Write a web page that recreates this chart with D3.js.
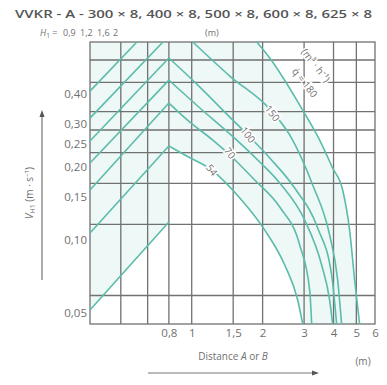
<!DOCTYPE html>
<html><head><meta charset="utf-8">
<script src="https://cdn.jsdelivr.net/npm/d3@7"></script>
<style>body{margin:0;background:#fff}svg{display:block}</style>
</head><body><svg id="c" width="387" height="385"></svg>
<script>
// Axis ticks and grid
const distTicks = [0.8, 1, 1.5, 2, 3, 4, 5, 6];
const distTickLabels = ["0,8", "1", "1,5", "2", "3", "4", "5", "6"];
const distGrid = [0.5, 0.65, 0.8, 1, 1.5, 2, 3, 4, 5];
const velTicks = [0.05, 0.10, 0.15, 0.20, 0.25, 0.30, 0.40];
const velTickLabels = ["0,05", "0,10", "0,15", "0,20", "0,25", "0,30", "0,40"];
const velGrid = [0.059, 0.116, 0.171, 0.229, 0.284, 0.338, 0.446, 0.552];
const heightLabels = ["0,9", "1,2", "1,6", "2"];

// Rising lines [distance m, velocity m/s]
const rise1 = [[0.37, 0.0514], [0.80, 0.1185]];
const rise2 = [[0.37, 0.1068], [0.80, 0.244]];
const rise3 = [[0.37, 0.1606], [0.80, 0.367]];
const rise4 = [[0.37, 0.2075], [0.80, 0.456]];
const rise5 = [[0.37, 0.256], [0.80, 0.5625]];
const rise6 = [[0.37, 0.318], [0.755, 0.655]];
const rise7 = [[0.37, 0.411], [0.585, 0.655]];

// Falling curves per flow rate [distance m, velocity m/s]
const q54 = [[0.80, 0.244], [0.935, 0.224], [1.217, 0.194], [1.600, 0.1489], [2.042, 0.1098], [2.482, 0.0788], [2.818, 0.0565], [2.959, 0.045]];
const q70 = [[0.80, 0.367], [0.982, 0.306], [1.229, 0.258], [1.451, 0.224], [1.852, 0.1766], [2.364, 0.1367], [2.874, 0.0953], [3.168, 0.0621], [3.231, 0.045]];
const q85 = [[0.80, 0.456], [1.083, 0.350], [1.554, 0.258], [1.945, 0.2095], [2.364, 0.1717], [3.017, 0.1208], [3.562, 0.0788], [3.851, 0.0565], [3.966, 0.045]];
const q100 = [[0.80, 0.5625], [1.083, 0.427], [1.451, 0.321], [1.730, 0.271], [2.144, 0.2177], [2.736, 0.1637], [3.426, 0.1120], [3.927, 0.0717], [4.123, 0.045]];
const q150 = [[1.011, 0.655], [1.451, 0.474], [2.165, 0.343], [2.606, 0.271], [3.263, 0.1684], [3.851, 0.1048], [4.166, 0.0683], [4.329, 0.045]];
const q180 = [[1.889, 0.655], [2.144, 0.5625], [2.959, 0.343], [3.493, 0.258], [3.966, 0.198], [4.374, 0.1606], [4.681, 0.1098], [4.918, 0.0683], [5.162, 0.045]];

// Flow-rate labels: text and anchor [distance, velocity]
const flowNames = ["54", "70", "100", "150", "q\u0307 = 180", "(m\u00B3 \u00B7 h\u207B\u00B9)"];
const flowAnchors = [[1.217, 0.194], [1.451, 0.228], [1.730, 0.271], [2.2, 0.333], [3.02, 0.445], [3.36, 0.525]];

const risingLines = [rise1, rise2, rise3, rise4, rise5, rise6, rise7];
const fallingCurves = [q54, q70, q85, q100, q150, q180];

const svg = d3.select("#c");
svg.append("rect").attr("width", 387).attr("height", 385).attr("fill", "#fff");

const x = d3.scaleLog().domain([0.37, 6]).range([90, 375]);
const y = d3.scaleLog().domain([0.045, 0.655]).range([324, 42]);
const straight = d3.line().x(d => x(d[0])).y(d => y(d[1]));
const smooth = d3.line().x(d => x(d[0])).y(d => y(d[1])).curve(d3.curveMonotoneX);

const gridCol = "#636363", curveCol = "#5bbcab", textCol = "#707070";
const font = "'Open Sans', 'Noto Sans', sans-serif";
const [xmin, xmax] = x.domain(), [vbot, vtop] = y.domain();

// Faint tint over the working region
const tint = [[xmin, vtop], [q180[0][0], vtop]]
  .concat(q180.slice(1))
  .concat(q54.slice().reverse())
  .concat([rise1[1], rise1[0]]);
svg.append("path").attr("d", straight(tint) + "Z").attr("fill", "#eef8f6");

// Grid
const g = svg.append("g").attr("stroke", gridCol).attr("stroke-width", 1.3).attr("opacity", 0.9);
distGrid.forEach(v => g.append("line").attr("x1", x(v)).attr("x2", x(v)).attr("y1", y(vtop)).attr("y2", y(vbot)));
velGrid.forEach(v => g.append("line").attr("y1", y(v)).attr("y2", y(v)).attr("x1", x(xmin)).attr("x2", x(xmax)));
g.append("rect").attr("x", x(xmin)).attr("y", y(vtop))
  .attr("width", x(xmax) - x(xmin)).attr("height", y(vbot) - y(vtop)).attr("fill", "none");

// Curves
const cg = svg.append("g").attr("fill", "none").attr("stroke", curveCol).attr("stroke-width", 1.6);
risingLines.forEach(r => cg.append("path").attr("d", straight(r)));
fallingCurves.forEach(f => cg.append("path").attr("d", smooth(f)));

// Flow labels along the curves
flowNames.forEach((t, i) => {
  svg.append("text")
    .attr("transform", `translate(${x(flowAnchors[i][0])},${y(flowAnchors[i][1])}) rotate(52)`)
    .attr("text-anchor", "middle").attr("dy", "0.35em")
    .attr("font-family", font).attr("font-size", 10).attr("fill", textCol)
    .attr("stroke", "#fff").attr("stroke-width", 3).attr("paint-order", "stroke")
    .text(t);
});

// Axes
const yAxis = d3.axisLeft(y).tickValues(velTicks).tickFormat((d, i) => velTickLabels[i]).tickSize(0).tickPadding(3);
const ya = svg.append("g").attr("transform", `translate(${x(xmin)},0)`).call(yAxis);
ya.select(".domain").remove();
ya.selectAll("text").attr("font-family", font).attr("font-size", 11.5).attr("fill", textCol);

const xAxis = d3.axisBottom(x).tickValues(distTicks).tickFormat((d, i) => distTickLabels[i]).tickSize(0).tickPadding(5);
const xa = svg.append("g").attr("transform", `translate(0,${y(vbot)})`).call(xAxis);
xa.select(".domain").remove();
xa.selectAll("text").attr("font-family", font).attr("font-size", 11.5).attr("fill", textCol);

// Title
svg.append("text").attr("x", 15).attr("y", 18)
  .attr("font-family", font).attr("font-size", 11.5).attr("font-weight", 600).attr("fill", "#555")
  .attr("textLength", 357).attr("lengthAdjust", "spacingAndGlyphs")
  .text("VVKR - A - 300 \u00D7 8, 400 \u00D7 8, 500 \u00D7 8, 600 \u00D7 8, 625 \u00D7 8");

// Installation height row
const hr = svg.append("g").attr("font-family", font).attr("font-size", 9).attr("fill", textCol);
const ht = hr.append("text").attr("x", 40).attr("y", 36);
ht.append("tspan").attr("font-style", "italic").text("H");
ht.append("tspan").attr("font-size", 6.5).attr("dy", 2).text("1");
ht.append("tspan").attr("dy", -2).text(" =");
const hx = [63, 80, 97, 113];
heightLabels.forEach((t, i) => hr.append("text").attr("x", hx[i]).attr("y", 36).text(t));
hr.append("text").attr("x", 205).attr("y", 36).text("(m)");

// Y axis title with arrow
const yl = svg.append("text").attr("transform", "translate(33,193) rotate(-90)")
  .attr("text-anchor", "middle").attr("font-family", font).attr("font-size", 10).attr("fill", textCol);
yl.append("tspan").attr("font-style", "italic").text("V");
yl.append("tspan").attr("font-size", 7).attr("dy", 2).text("H1");
yl.append("tspan").attr("dy", -2).text(" (m \u00B7 s\u207B\u00B9)");
svg.append("line").attr("x1", 42).attr("x2", 42).attr("y1", 280).attr("y2", 116).attr("stroke", "#777").attr("stroke-width", 1.2);
svg.append("path").attr("d", "M42,110 L39.5,117 L44.5,117 Z").attr("fill", "#555");

// X axis title with arrow
const xl = svg.append("text").attr("x", 233).attr("y", 360).attr("text-anchor", "middle")
  .attr("font-family", font).attr("font-size", 10).attr("fill", textCol);
xl.append("tspan").text("Distance ");
xl.append("tspan").attr("font-style", "italic").text("A");
xl.append("tspan").text(" or ");
xl.append("tspan").attr("font-style", "italic").text("B");
svg.append("text").attr("x", 363).attr("y", 365).attr("text-anchor", "middle")
  .attr("font-family", font).attr("font-size", 10).attr("fill", textCol).text("(m)");
svg.append("line").attr("x1", 148).attr("x2", 313).attr("y1", 373).attr("y2", 373).attr("stroke", "#777").attr("stroke-width", 1.2);
svg.append("path").attr("d", "M319,373 L312,370.5 L312,375.5 Z").attr("fill", "#555");
</script></body></html>
